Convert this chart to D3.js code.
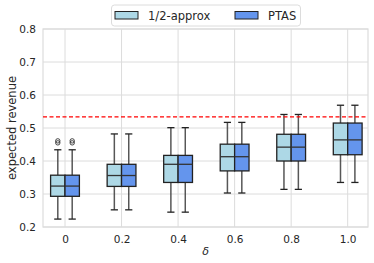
<!DOCTYPE html>
<html><head><meta charset="utf-8">
<script src="https://cdn.jsdelivr.net/npm/d3@7"></script>
<style>body{margin:0;background:#fff}svg{display:block}text{font-family:"DejaVu Sans",sans-serif;fill:#262626}</style>
</head><body><svg id="c" width="374" height="263"></svg>
<script>
const categories = ["0","0.2","0.4","0.6","0.8","1.0"];
const seriesNames = ["1/2-approx","PTAS"];
const seriesColors = ["#add8e6","#6495ed"];
// [lowerWhisker, Q1, median, Q3, upperWhisker]
const approxStats = [
  [0.224,0.293,0.324,0.357,0.434],
  [0.252,0.323,0.356,0.390,0.482],
  [0.245,0.335,0.390,0.417,0.501],
  [0.303,0.370,0.413,0.451,0.517],
  [0.314,0.400,0.442,0.481,0.541],
  [0.335,0.419,0.464,0.515,0.569]
];
const ptasStats = [
  [0.224,0.293,0.324,0.357,0.434],
  [0.252,0.323,0.356,0.390,0.482],
  [0.245,0.335,0.390,0.417,0.501],
  [0.303,0.370,0.413,0.451,0.517],
  [0.314,0.400,0.442,0.481,0.541],
  [0.335,0.419,0.464,0.515,0.569]
];
const approxOutliers = [[0.455,0.461],[],[],[],[],[]];
const ptasOutliers = [[0.455,0.461],[],[],[],[],[]];
const refLine = 0.534;
const yTicks = [0.2,0.3,0.4,0.5,0.6,0.7,0.8];

const svg = d3.select("#c");
const L=43,R=368,T=29,B=227;
const x = d3.scalePoint().domain(categories).range([65,347.7]);
const y = d3.scaleLinear().domain([0.2,0.8]).range([B,T]);
const sub = d3.scaleBand().domain(seriesNames).range([-14.4,14.4]);

// grid
const g = svg.append("g");
g.selectAll(".gy").data(yTicks).join("line").attr("x1",L).attr("x2",R)
 .attr("y1",d=>y(d)).attr("y2",d=>y(d)).attr("stroke","#dcdcdc").attr("stroke-width",1);
g.selectAll(".gx").data(categories).join("line").attr("y1",T).attr("y2",B)
 .attr("x1",d=>x(d)).attr("x2",d=>x(d)).attr("stroke","#dcdcdc").attr("stroke-width",1);
g.append("rect").attr("x",L).attr("y",T).attr("width",R-L).attr("height",B-T)
 .attr("fill","none").attr("stroke","#dcdcdc").attr("stroke-width",1.2);

// axes labels
const ya = d3.axisLeft(y).tickValues(yTicks).tickFormat(d3.format(".1f")).tickSize(0).tickPadding(7);
svg.append("g").attr("transform",`translate(${L},0)`).call(ya).call(s=>{s.select(".domain").remove();s.selectAll("text").attr("font-size","10.5px").attr("fill","#262626").attr("font-family","DejaVu Sans");});
const xa = d3.axisBottom(x).tickSize(0).tickPadding(9);
svg.append("g").attr("transform",`translate(0,${B})`).call(xa).call(s=>{s.select(".domain").remove();s.selectAll("text").attr("font-size","10.5px").attr("fill","#262626").attr("font-family","DejaVu Sans");});

svg.append("text").attr("transform",`translate(15.5,${(T+B)/2}) rotate(-90)`).attr("text-anchor","middle")
 .attr("font-size","11.5px").text("expected revenue");
svg.append("text").attr("x",(L+R)/2).attr("y",255).attr("text-anchor","middle")
 .attr("font-size","11px").attr("font-style","italic").text("δ");

// boxes
const allStats=[approxStats,ptasStats], allOut=[approxOutliers,ptasOutliers];
seriesNames.forEach((sn,si)=>{
  const bw=sub.bandwidth();
  categories.forEach((c,ci)=>{
    const s=allStats[si][ci];
    const x0=x(c)+sub(sn), cx=x0+bw/2;
    const bg=svg.append("g");
    bg.append("line").attr("x1",cx).attr("x2",cx).attr("y1",y(s[0])).attr("y2",y(s[1])).attr("stroke","#3a3a3a").attr("stroke-width",1.5).attr("stroke-opacity",0.85);
    bg.append("line").attr("x1",cx).attr("x2",cx).attr("y1",y(s[3])).attr("y2",y(s[4])).attr("stroke","#3a3a3a").attr("stroke-width",1.5).attr("stroke-opacity",0.85);
    [s[0],s[4]].forEach(v=>bg.append("line").attr("x1",cx-3.6).attr("x2",cx+3.6).attr("y1",y(v)).attr("y2",y(v)).attr("stroke","#222").attr("stroke-width",1.3));
    bg.append("rect").attr("x",x0).attr("y",y(s[3])).attr("width",bw).attr("height",y(s[1])-y(s[3]))
      .attr("fill",seriesColors[si]).attr("stroke","#222").attr("stroke-width",1.3);
    bg.append("line").attr("x1",x0).attr("x2",x0+bw).attr("y1",y(s[2])).attr("y2",y(s[2])).attr("stroke","#333").attr("stroke-width",1.3);
    allOut[si][ci].forEach(v=>bg.append("circle").attr("cx",cx).attr("cy",y(v)).attr("r",2.2).attr("fill","none").attr("stroke","#333").attr("stroke-width",0.9));
  });
});

// reference line
svg.append("line").attr("x1",L).attr("x2",R).attr("y1",y(refLine)).attr("y2",y(refLine))
 .attr("stroke","#ff0000").attr("stroke-width",1.2).attr("stroke-dasharray","4,2.5");

// legend
const lg=svg.append("g");
lg.append("rect").attr("x",111.5).attr("y",5).attr("width",189).attr("height",21).attr("rx",3)
 .attr("fill","#fff").attr("stroke","#d8d8d8").attr("stroke-width",0.9);
const lx=[115,235];
seriesNames.forEach((sn,i)=>{
  lg.append("rect").attr("x",lx[i]).attr("y",11.5).attr("width",23).attr("height",7.5)
    .attr("fill",seriesColors[i]).attr("stroke","#222").attr("stroke-width",1);
  lg.append("text").attr("x",lx[i]+33).attr("y",19.5).attr("font-size","11.5px").text(sn);
});
</script></body></html>
